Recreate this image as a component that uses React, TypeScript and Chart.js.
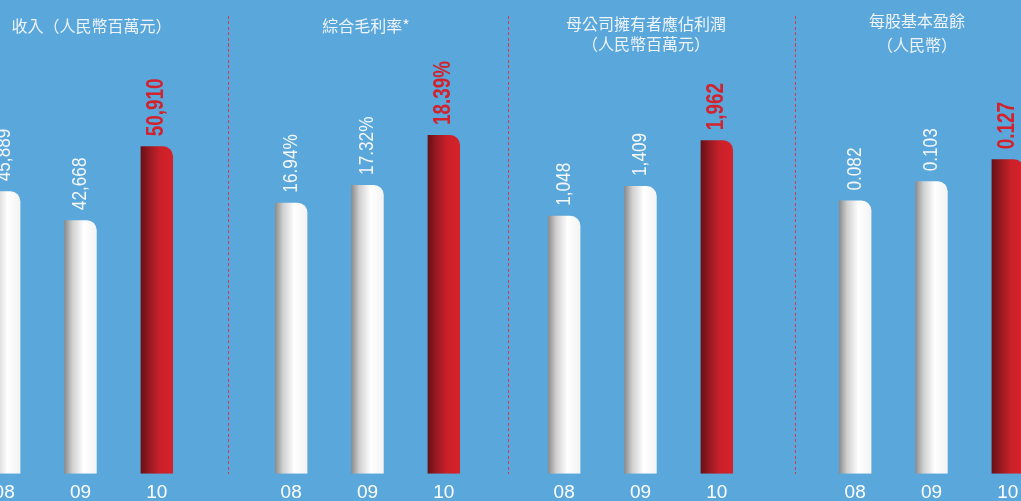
import React, { useEffect, useRef } from "react";
import { Chart, registerables } from "chart.js";

Chart.register(...registerables);

// ---------- data ----------
const years = ["08", "09", "10"];
const revenue = [45889, 42668, 50910];
const grossMargin = [16.94, 17.32, 18.39];
const profit = [1048, 1409, 1962];
const eps = [0.082, 0.103, 0.127];

const titleRevenue = ["收入（人民幣百萬元）"];
const titleMargin = ["綜合毛利率*"];
const titleProfit = ["母公司擁有者應佔利潤", "（人民幣百萬元）"];
const titleEps = ["每股基本盈餘", "（人民幣）"];

const highlightYear = "10";

// ---------- styles ----------
const BG = "#5aa7db";
const SANS = "'Liberation Sans', Arial, sans-serif";
const CJK = "'Noto Sans CJK TC', 'Noto Sans CJK SC', sans-serif";
const BAR_PCT = 0.425;
const CANVAS_W = 229;
const CANVAS_H = 501;
const CONDENSE = 0.82;

function fmtThousands(v: number) {
  return v.toLocaleString("en-US");
}
function fmtPercent(v: number) {
  return v.toFixed(2) + "%";
}
function fmtEps(v: number) {
  return v.toFixed(3);
}

function barFill(c: any) {
  const chart = c.chart;
  const xs = chart.scales && chart.scales.x;
  const isRed = years[c.dataIndex] === highlightYear;
  if (!xs || c.dataIndex === undefined || !chart.chartArea) {
    return isRed ? "#c8202a" : "#ffffff";
  }
  const cx = xs.getPixelForValue(c.dataIndex);
  const w = (xs.width / years.length) * BAR_PCT;
  const g = chart.ctx.createLinearGradient(cx - w / 2, 0, cx + w / 2, 0);
  if (isRed) {
    g.addColorStop(0, "#661016");
    g.addColorStop(0.3, "#9c1a22");
    g.addColorStop(0.6, "#cb2029");
    g.addColorStop(1, "#d6222b");
  } else {
    g.addColorStop(0, "#8a8a8a");
    g.addColorStop(0.25, "#cfcfcf");
    g.addColorStop(0.6, "#ffffff");
    g.addColorStop(1, "#f3f3f3");
  }
  return g;
}

type PanelProps = {
  left: number;
  values: number[];
  format: (v: number) => string;
  yMin: number;
  yMax: number;
};

function Panel({ left, values, format, yMin, yMax }: PanelProps) {
  const ref = useRef<HTMLCanvasElement>(null);
  useEffect(() => {
    const canvas = ref.current;
    if (!canvas) return;
    const labelPlugin = {
      id: "valueLabels",
      afterDatasetsDraw(chart: any) {
        const meta = chart.getDatasetMeta(0);
        const ctx = chart.ctx;
        meta.data.forEach((el: any, i: number) => {
          const isRed = years[i] === highlightYear;
          ctx.save();
          ctx.translate(el.x, el.y - 10);
          ctx.rotate(-Math.PI / 2);
          ctx.scale(CONDENSE, 1);
          ctx.textAlign = "left";
          ctx.textBaseline = "middle";
          ctx.font = isRed ? `bold 23px ${SANS}` : `21px ${SANS}`;
          ctx.fillStyle = isRed ? "#d3222c" : "#f5f7fa";
          ctx.fillText(format(values[i]), 0, 0);
          ctx.restore();
        });
      },
    };
    const chart = new Chart(canvas, {
      type: "bar",
      data: {
        labels: years,
        datasets: [
          {
            data: values,
            base: yMin,
            backgroundColor: barFill as any,
            borderRadius: { topLeft: 0, topRight: 10, bottomLeft: 0, bottomRight: 0 },
            borderSkipped: "start",
            barPercentage: BAR_PCT,
            categoryPercentage: 1,
          } as any,
        ],
      },
      options: {
        responsive: false,
        maintainAspectRatio: false,
        animation: false,
        layout: { padding: 0 },
        plugins: {
          legend: { display: false },
          tooltip: { enabled: false },
          title: { display: false },
        },
        scales: {
          x: {
            grid: { display: false, drawTicks: false },
            border: { display: false },
            ticks: {
              color: "#ffffff",
              font: { family: SANS, size: 19 },
              padding: 8,
            },
            afterFit: (s: any) => {
              s.height = 27.3;
            },
          },
          y: { display: false, min: yMin, max: yMax },
        },
      } as any,
      plugins: [labelPlugin],
    });
    return () => chart.destroy();
  }, []);
  return (
    <canvas
      ref={ref}
      width={CANVAS_W}
      height={CANVAS_H}
      style={{ position: "absolute", left, top: 0, width: CANVAS_W, height: CANVAS_H }}
    />
  );
}

function Title({ cx, top, lineHeight, lines }: { cx: number; top: number; lineHeight: number; lines: string[] }) {
  return (
    <div
      style={{
        position: "absolute",
        left: cx - 150,
        top,
        width: 300,
        textAlign: "center",
        color: "#eef4fa",
        fontFamily: CJK,
        fontSize: 16,
        lineHeight: lineHeight + "px",
        whiteSpace: "nowrap",
      }}
    >
      {lines.map((l, i) => (
        <div key={i}>{l}</div>
      ))}
    </div>
  );
}

function Separator({ x }: { x: number }) {
  return (
    <div
      style={{
        position: "absolute",
        left: x,
        top: 16,
        width: 1,
        height: 458,
        background: "repeating-linear-gradient(to bottom, #d8384c 0px, #d8384c 3px, transparent 3px, transparent 5.5px)",
      }}
    />
  );
}

export default function App() {
  return (
    <div
      style={{
        position: "absolute",
        left: 0,
        top: 0,
        width: 1021,
        height: 501,
        overflow: "hidden",
        background: BG,
      }}
    >
      <Panel left={-34} values={revenue} format={fmtThousands} yMin={14412} yMax={67209} />
      <Panel left={253} values={grossMargin} format={fmtPercent} yMin={11.133} yMax={21.281} />
      <Panel left={526} values={profit} format={fmtThousands} yMin={-2068} yMax={3656} />
      <Panel left={817} values={eps} format={fmtEps} yMin={-0.2156} yMax={0.3006} />
      <Separator x={228} />
      <Separator x={508} />
      <Separator x={795} />
      <Title cx={91.5} top={15.3} lineHeight={20} lines={titleRevenue} />
      <Title cx={366} top={15.3} lineHeight={20} lines={titleMargin} />
      <Title cx={646} top={13.3} lineHeight={20} lines={titleProfit} />
      <Title cx={917} top={7.5} lineHeight={24.5} lines={titleEps} />
    </div>
  );
}
